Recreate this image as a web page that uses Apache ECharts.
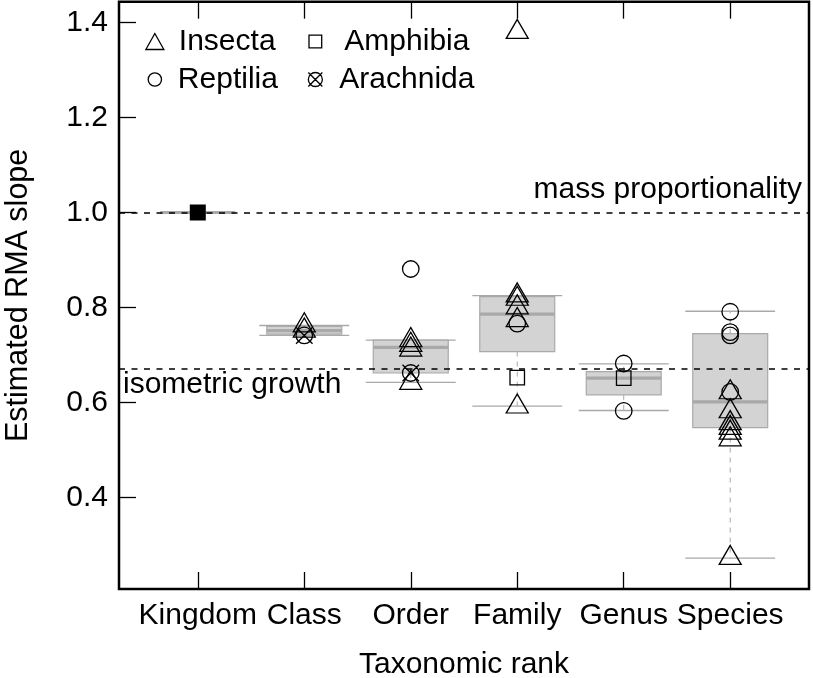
<!DOCTYPE html>
<html><head><meta charset="utf-8">
<script src="https://cdn.jsdelivr.net/npm/echarts@6/dist/echarts.min.js"></script>
<style>html,body{margin:0;padding:0;background:#fff}#c{width:813px;height:678px}</style>
</head><body><div id="c"></div>
<script>
const categories = ['Kingdom', 'Class', 'Order', 'Family', 'Genus', 'Species'];
const yTicks = [0.4, 0.6, 0.8, 1.0, 1.2, 1.4];
// box statistics per category: [lower whisker, Q1, median, Q3, upper whisker]
const boxKingdom = [1.0, 1.0, 1.0, 1.0, 1.0];
const boxClass   = [0.741, 0.744, 0.751, 0.760, 0.762];
const boxOrder   = [0.642, 0.662, 0.716, 0.731, 0.731];
const boxFamily  = [0.592, 0.707, 0.786, 0.823, 0.825];
const boxGenus   = [0.583, 0.616, 0.651, 0.665, 0.681];
const boxSpecies = [0.272, 0.547, 0.601, 0.745, 0.792];
// points: [category index (1-based), slope]
const kingdomPoint = [[1, 1.0]];
const insecta = [[2, 0.762], [2, 0.751],
  [3, 0.731], [3, 0.721], [3, 0.711], [3, 0.641],
  [4, 1.38], [4, 0.825], [4, 0.818], [4, 0.800], [4, 0.773], [4, 0.591],
  [6, 0.621], [6, 0.581], [6, 0.556], [6, 0.546], [6, 0.536], [6, 0.522], [6, 0.272]];
const reptilia = [[3, 0.881], [4, 0.766], [5, 0.682], [5, 0.582],
  [6, 0.791], [6, 0.748], [6, 0.741], [6, 0.622]];
const amphibia = [[4, 0.652], [5, 0.651]];
const arachnida = [[2, 0.741], [3, 0.662]];
const refMass = 1.0;
const refIso = 0.67;

const FONT = 'Liberation Sans';
const boxes = [boxKingdom, boxClass, boxOrder, boxFamily, boxGenus, boxSpecies];
const boxData = boxes.map((b, i) => [i + 1].concat(b));
const crossCircle = 'path://M0,10A10,10 0 1 0 20,10A10,10 0 1 0 0,10Z M0,0L20,20 M20,0L0,20';
const legTri = 'path://M0,0M18,16M9,0L18,16L0,16Z';
const legCirc = 'path://M0,0M18,16M2.35,8A6.65,6.65 0 1 0 15.65,8A6.65,6.65 0 1 0 2.35,8Z';
const legSq = 'path://M0,0M18,16M2.65,1.65L15.35,1.65L15.35,14.35L2.65,14.35Z';
const legX = 'path://M0,0M18,16M2,8A7,7 0 1 0 16,8A7,7 0 1 0 2,8Z M2,1L16,15 M16,1L2,15';
const openStyle = {color: 'transparent', borderColor: '#000', borderWidth: 1.3, opacity: 1};

const chart = echarts.init(document.getElementById('c'));
const xCommon = {
  type: 'value', min: 0.26, max: 6.74,
  axisLine: {show: false},
  splitLine: {show: false},
  axisTick: {show: true, inside: true, length: 17, customValues: [1, 2, 3, 4, 5, 6], lineStyle: {color: '#000', width: 1.3}}
};
const legendCommon = {
  orient: 'vertical', top: 26.5, padding: 0, itemGap: 8, itemWidth: 18, itemHeight: 16,
  selectedMode: false,
  itemStyle: openStyle,
  textStyle: {fontFamily: FONT, fontSize: 30, color: '#000', lineHeight: 30}
};
chart.setOption({
  animation: false,
  backgroundColor: '#fff',
  grid: {left: 119, right: 4, top: 1.7, bottom: 89, show: true, borderColor: '#000', borderWidth: 2.5,
    backgroundColor: 'transparent', containLabel: false, outerBoundsMode: 'none'},
  legend: [
    Object.assign({}, legendCommon, {left: 145.2, data: [
      {name: 'Insecta', icon: legTri, textStyle: {padding: [0, 0, 0, 10]}},
      {name: 'Reptilia', icon: legCirc, textStyle: {padding: [0, 0, 0, 9]}}
    ]}),
    Object.assign({}, legendCommon, {left: 305.7, data: [
      {name: 'Amphibia', icon: legSq, textStyle: {padding: [0, 0, 0, 15]}},
      {name: 'Arachnida', icon: legX, textStyle: {padding: [0, 0, 0, 10]}}
    ]})
  ],
  xAxis: [
    Object.assign({}, xCommon, {
      position: 'bottom',
      name: 'Taxonomic rank', nameLocation: 'middle', nameGap: 61,
      nameTextStyle: {fontFamily: FONT, fontSize: 30, color: '#000'},
      axisLabel: {show: true, customValues: [1, 2, 3, 4, 5, 6], margin: 12, fontFamily: FONT, fontSize: 30, color: '#000',
        formatter: v => categories[Math.round(v) - 1]}
    }),
    Object.assign({}, xCommon, {position: 'top', axisLabel: {show: false}})
  ],
  yAxis: [
    {
      type: 'value', min: 0.207, max: 1.444, position: 'left',
      axisLine: {show: false}, splitLine: {show: false},
      axisTick: {show: true, inside: true, length: 17, customValues: yTicks, lineStyle: {color: '#000', width: 1.3}},
      axisLabel: {show: true, customValues: yTicks, margin: 11, fontFamily: FONT, fontSize: 30, color: '#000',
        formatter: v => v.toFixed(1)},
      name: 'Estimated RMA slope', nameLocation: 'middle', nameGap: 85,
      nameTextStyle: {fontFamily: FONT, fontSize: 30.5, color: '#000'}
    }
  ],
  series: [
    {
      type: 'custom', name: 'boxes', z: 1, silent: true,
      encode: {x: 0, y: [1, 2, 3, 4, 5]},
      data: boxData,
      renderItem: function (params, api) {
        const x = api.value(0);
        const low = api.value(1), q1 = api.value(2), med = api.value(3), q3 = api.value(4), high = api.value(5);
        const unit = api.size([1, 0])[0];
        const bw = unit * 0.352, sw = unit * 0.422;
        const pL = api.coord([x, low]), p1 = api.coord([x, q1]), pM = api.coord([x, med]), p3 = api.coord([x, q3]), pH = api.coord([x, high]);
        const cx = pM[0];
        const grey = '#a9a9a9';
        const ch = [];
        const wStyle = {stroke: grey, lineWidth: 1, lineDash: [5, 5]};
        if (high > q3) ch.push({type: 'line', shape: {x1: cx, y1: p3[1], x2: cx, y2: pH[1]}, style: wStyle});
        if (low < q1) ch.push({type: 'line', shape: {x1: cx, y1: p1[1], x2: cx, y2: pL[1]}, style: wStyle});
        if (high > low) {
          ch.push({type: 'line', shape: {x1: cx - sw, y1: pH[1], x2: cx + sw, y2: pH[1]}, style: {stroke: grey, lineWidth: 1.3}});
          ch.push({type: 'line', shape: {x1: cx - sw, y1: pL[1], x2: cx + sw, y2: pL[1]}, style: {stroke: grey, lineWidth: 1.3}});
        }
        ch.push({type: 'rect', shape: {x: cx - bw, y: p3[1], width: 2 * bw, height: p1[1] - p3[1]},
          style: {fill: '#d3d3d3', stroke: grey, lineWidth: 1.2}});
        ch.push({type: 'line', shape: {x1: cx - bw, y1: pM[1], x2: cx + bw, y2: pM[1]}, style: {stroke: grey, lineWidth: 3.2}});
        return {type: 'group', children: ch};
      }
    },
    {
      type: 'scatter', name: 'ref', z: 2, silent: true, data: [],
      markLine: {
        silent: true, symbol: ['none', 'none'], animation: false,
        lineStyle: {color: '#000', width: 1.5, type: [6, 6.5], opacity: 1},
        label: {fontFamily: FONT, fontSize: 30, color: '#000'},
        data: [
          {yAxis: refMass, label: {formatter: 'mass proportionality', position: 'insideEndTop', distance: [7, 8]}},
          {yAxis: refIso, label: {formatter: 'isometric growth', position: 'insideStartBottom', distance: [4, 1]}}
        ]
      }
    },
    {type: 'scatter', name: 'Kingdom', z: 3, data: kingdomPoint, symbol: 'rect', symbolSize: 16,
      itemStyle: {color: '#000', opacity: 1}},
    {type: 'scatter', name: 'Insecta', z: 3, data: insecta, symbol: 'triangle', symbolSize: [22, 19],
      symbolOffset: [0, '-16.7%'], itemStyle: openStyle},
    {type: 'scatter', name: 'Reptilia', z: 3, data: reptilia, symbol: 'circle', symbolSize: 16.5, itemStyle: openStyle},
    {type: 'scatter', name: 'Amphibia', z: 3, data: amphibia, symbol: 'rect', symbolSize: 14.5, itemStyle: openStyle},
    {type: 'scatter', name: 'Arachnida', z: 3, data: arachnida, symbol: crossCircle, symbolSize: 16.5, itemStyle: openStyle}
  ]
});
</script></body></html>
